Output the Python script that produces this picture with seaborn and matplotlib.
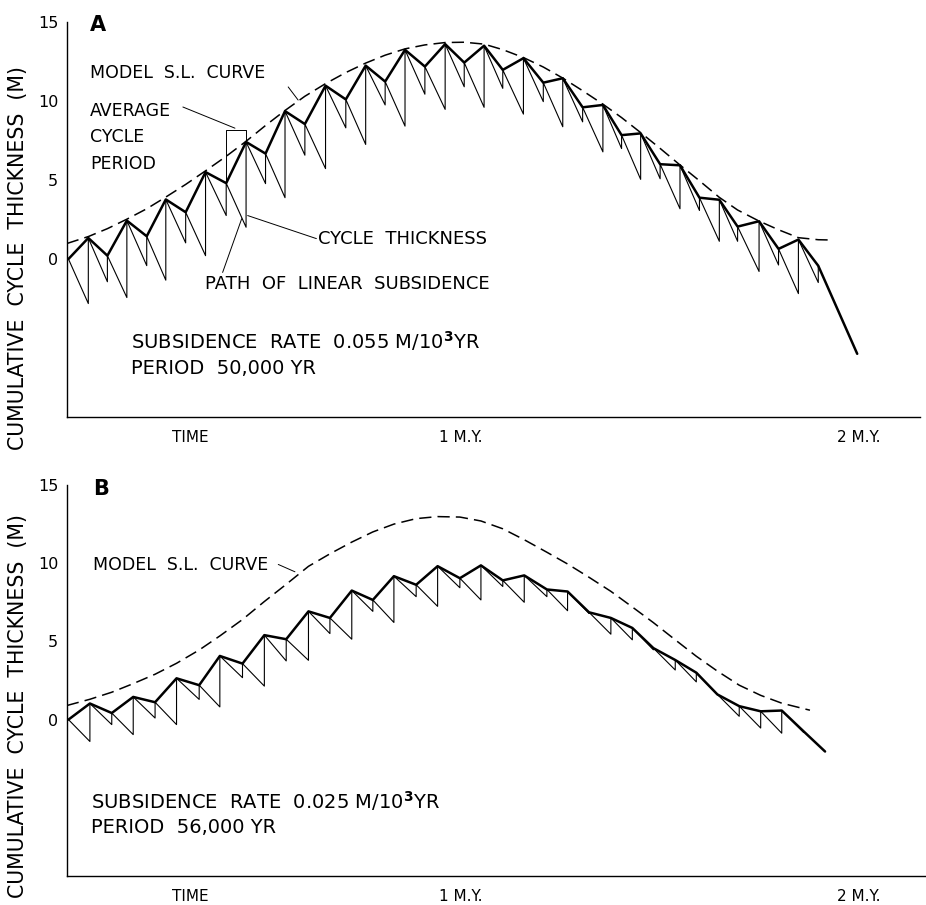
import pandas as pd
import seaborn as sns
import matplotlib.pyplot as plt

# ---- panel A : subsidence 0.055 m/kyr, period 50 kyr ----
# time (M.Y.) of each cycle top, top height (m), base of the cycle below each top (m)
a_t = [0.012, 0.062, 0.110, 0.159, 0.209, 0.257, 0.307, 0.357, 0.409, 0.459,
       0.508, 0.557, 0.607, 0.659, 0.710, 0.760, 0.809, 0.859, 0.909, 0.960,
       1.008, 1.058, 1.105, 1.157, 1.207, 1.256, 1.306, 1.357, 1.404, 1.452,
       1.501, 1.551, 1.600, 1.650, 1.696, 1.750, 1.799, 1.849, 1.899]
a_top = [0.0, 1.33, 0.21, 2.43, 1.44, 3.77, 2.96, 5.5, 4.8, 7.41,
         6.67, 9.36, 8.54, 10.97, 10.1, 12.24, 11.23, 13.24, 12.18, 13.6,
         12.43, 13.5, 11.97, 12.71, 11.16, 11.44, 9.6, 9.75, 7.84, 7.95,
         6.0, 5.93, 3.88, 3.75, 2.05, 2.39, 0.64, 1.23, -0.43]
a_base = [-2.82, -1.44, -2.44, -0.42, -1.34, 1.02, 0.21, 2.75, 2.01,
          4.77, 3.88, 6.57, 5.72, 8.3, 7.25, 9.75, 8.41, 10.43, 9.47,
          10.9, 9.6, 10.8, 9.17, 9.96, 8.37, 8.68, 6.78, 6.99, 5.04,
          5.08, 3.18, 3.07, 1.12, 1.12, -0.79, -0.38, -2.19, -1.49]
a_end_t, a_end_y = 1.997, -6.0
a_sl_t = [0.008, 0.062, 0.110, 0.159, 0.209, 0.257, 0.307, 0.357, 0.409, 0.459,
          0.508, 0.557, 0.607, 0.659, 0.710, 0.760, 0.809, 0.859, 0.909, 0.960,
          1.008, 1.058, 1.105, 1.157, 1.207, 1.256, 1.306, 1.357, 1.404, 1.452,
          1.501, 1.551, 1.600, 1.650, 1.696, 1.750, 1.799, 1.849, 1.899, 1.934]
a_sl_y = [0.98, 1.42, 1.92, 2.52, 3.18, 3.92, 4.72, 5.58, 6.5, 7.45,
          8.45, 9.4, 10.3, 11.1, 11.8, 12.4, 12.9, 13.3, 13.55, 13.7,
          13.72, 13.6, 13.25, 12.75, 12.15, 11.45, 10.65, 9.8, 8.95, 8.0,
          7.0, 5.95, 4.95, 3.9, 3.1, 2.4, 1.85, 1.35, 1.22, 1.2]

# ---- panel B : subsidence 0.025 m/kyr, period 56 kyr ----
b_t = [0.012, 0.066, 0.121, 0.175, 0.230, 0.284, 0.341, 0.393, 0.450, 0.505,
       0.560, 0.616, 0.670, 0.725, 0.778, 0.831, 0.887, 0.941, 0.997, 1.050,
       1.105, 1.159, 1.216, 1.268, 1.322, 1.377, 1.431, 1.484, 1.539, 1.592,
       1.645, 1.700, 1.754, 1.807, 1.862]
b_top = [0.0, 1.03, 0.42, 1.45, 1.11, 2.64, 2.2, 4.07, 3.58, 5.4,
         5.14, 6.92, 6.5, 8.25, 7.65, 9.17, 8.62, 9.81, 9.04, 9.86,
         8.9, 9.22, 8.32, 8.19, 6.86, 6.5, 5.86, 4.57, 3.81, 3.0,
         1.61, 0.86, 0.53, 0.58, -0.75]
b_base = [-1.4, -0.32, -0.96, 0.1, -0.32, 1.29, 0.81, 2.68, 2.14, 3.75,
          3.79, 5.5, 5.14, 6.92, 6.21, 7.86, 7.24, 8.43, 7.65, 8.51,
          7.5, 7.86, 6.96, 6.79, 5.46, 5.1, 4.46, 3.17, 2.41, 1.6,
          0.21, -0.54, -0.87, -0.82]
b_end_t, b_end_y = 1.916, -2.04
b_sl_t = [0.008, 0.066, 0.121, 0.175, 0.230, 0.284, 0.341, 0.393, 0.450, 0.505,
          0.560, 0.616, 0.670, 0.725, 0.778, 0.831, 0.887, 0.941, 0.997, 1.050,
          1.105, 1.159, 1.216, 1.268, 1.322, 1.377, 1.431, 1.484, 1.539, 1.592,
          1.645, 1.700, 1.754, 1.807, 1.862, 1.878]
b_sl_y = [0.9, 1.3, 1.75, 2.3, 2.9, 3.6, 4.45, 5.35, 6.4, 7.55,
          8.65, 9.8, 10.6, 11.35, 12.0, 12.5, 12.85, 12.98, 12.95, 12.7,
          12.2, 11.5, 10.7, 9.95, 9.1, 8.2, 7.2, 6.2, 5.1, 4.05,
          3.1, 2.2, 1.55, 1.05, 0.7, 0.6]

x_ticks = [0.2, 0.4, 0.6, 0.8, 1.0, 1.2, 1.4, 1.6, 1.8, 2.0]
x_labels = ['', '', '', '', '1 M.Y.', '', '', '', '', '2 M.Y.']
y_ticks = [0, 5, 10, 15]

sns.set_theme(style='white')
plt.rcParams['font.family'] = ['DejaVu Sans']
plt.rcParams['text.color'] = 'black'
plt.rcParams['xtick.color'] = 'black'
plt.rcParams['ytick.color'] = 'black'
narrow = ['Liberation Sans Narrow', 'DejaVu Sans']


def frames(t, top, base, end_t, end_y):
    thick = pd.DataFrame({'t': t + [end_t], 'y': top + [end_y]})
    # thin path: top k -> base of k+1 (subsidence) -> top k+1 (cycle thickness)
    pt, py = [t[0]], [top[0]]
    for k in range(1, len(t)):
        pt += [t[k], t[k]]
        py += [base[k - 1], top[k]]
    thin = pd.DataFrame({'t': pt, 'y': py})
    return thick, thin


def panel(ax, t, top, base, end_t, end_y, sl_t, sl_y, xmax):
    thick, thin = frames(t, top, base, end_t, end_y)
    sl = pd.DataFrame({'t': sl_t, 'y': sl_y})
    sns.lineplot(data=sl, x='t', y='y', ax=ax, sort=False, estimator=None,
                 color='black', lw=1.1, linestyle=(0, (8, 4)))
    sns.lineplot(data=thin, x='t', y='y', ax=ax, sort=False, estimator=None,
                 color='black', lw=0.8)
    sns.lineplot(data=thick, x='t', y='y', ax=ax, sort=False, estimator=None,
                 color='black', lw=1.8)
    ax.set_xlim(0.0076, xmax)
    ax.set_ylim(-10, 15)
    ax.set_xticks(x_ticks)
    ax.set_xticklabels(x_labels, fontsize=11)
    ax.set_yticks(y_ticks)
    ax.set_yticklabels([str(v) for v in y_ticks], fontsize=11.5)
    ax.tick_params(axis='x', direction='in', length=4, width=0.8, pad=9)
    ax.tick_params(axis='y', direction='out', length=3, width=0.8, pad=3)
    for s in ['top', 'right']:
        ax.spines[s].set_visible(False)
    for s in ['left', 'bottom']:
        ax.spines[s].set_color('black')
        ax.spines[s].set_linewidth(1.0)
    ax.set_xlabel('')
    ax.set_ylabel('')
    ax.text(0.318, -0.033, 'TIME', transform=ax.get_xaxis_transform(),
            ha='center', va='top', fontsize=11)


fig = plt.figure(figsize=(9.26, 9.05), dpi=100)
axA = fig.add_axes([66.7 / 926, 1 - 417 / 905, (920 - 66.7) / 926, (417 - 22) / 905])
axB = fig.add_axes([66.7 / 926, 1 - 876 / 905, (926 - 66.7) / 926, (876 - 485) / 905])

panel(axA, a_t, a_top, a_base, a_end_t, a_end_y, a_sl_t, a_sl_y, 2.155)
panel(axB, b_t, b_top, b_base, b_end_t, b_end_y, b_sl_t, b_sl_y, 2.17)

lbl = dict(fontsize=12.5, va='center')

# panel A annotations
axA.text(0.065, 14.8, 'A', fontsize=15, fontweight='bold', va='center', ha='left')
axA.text(0.066, 11.8, 'MODEL  S.L.  CURVE', **lbl)
axA.plot([0.565, 0.59], [10.89, 10.06], color='black', lw=0.7)
axA.text(0.066, 7.7, 'AVERAGE\nCYCLE\nPERIOD', fontsize=12.5, va='center',
         linespacing=1.6)
axA.plot([0.30, 0.431], [9.62, 8.28], color='black', lw=0.7)
axA.plot([a_t[8], a_t[8], a_t[9], a_t[9]], [a_top[8], 8.16, 8.16, a_top[9]],
         color='black', lw=0.7)
axA.text(0.64, 1.29, 'CYCLE  THICKNESS', fontsize=13, va='center')
axA.plot([a_t[9] + 0.004, 0.636], [2.75, 1.29], color='black', lw=0.7)
axA.text(0.356, -1.57, 'PATH  OF  LINEAR  SUBSIDENCE', fontsize=13, va='center')
axA.plot([0.40, 0.448], [-0.85, 2.55], color='black', lw=0.7)
axA.text(0.17, -5.2, 'SUBSIDENCE  RATE  0.055 M/10$^{\\mathbf{3}}$YR', fontsize=14,
         va='center', family=narrow)
axA.text(0.17, -6.9, 'PERIOD  50,000 YR', fontsize=14, va='center', family=narrow)

# panel B annotations
axB.text(0.075, 14.75, 'B', fontsize=15, fontweight='bold', va='center', ha='left')
axB.text(0.074, 9.86, 'MODEL  S.L.  CURVE', **lbl)
axB.plot([0.54, 0.582], [9.92, 9.45], color='black', lw=0.7)
axB.text(0.07, -5.2, 'SUBSIDENCE  RATE  0.025 M/10$^{\\mathbf{3}}$YR', fontsize=14,
         va='center', family=narrow)
axB.text(0.07, -6.9, 'PERIOD  56,000 YR', fontsize=14, va='center', family=narrow)

for yc in [258, 706]:
    fig.text(18 / 926, 1 - yc / 905, 'CUMULATIVE  CYCLE  THICKNESS  (M)',
             rotation=90, ha='center', va='center', fontsize=14.8)

fig.savefig('out.png', dpi=100)
